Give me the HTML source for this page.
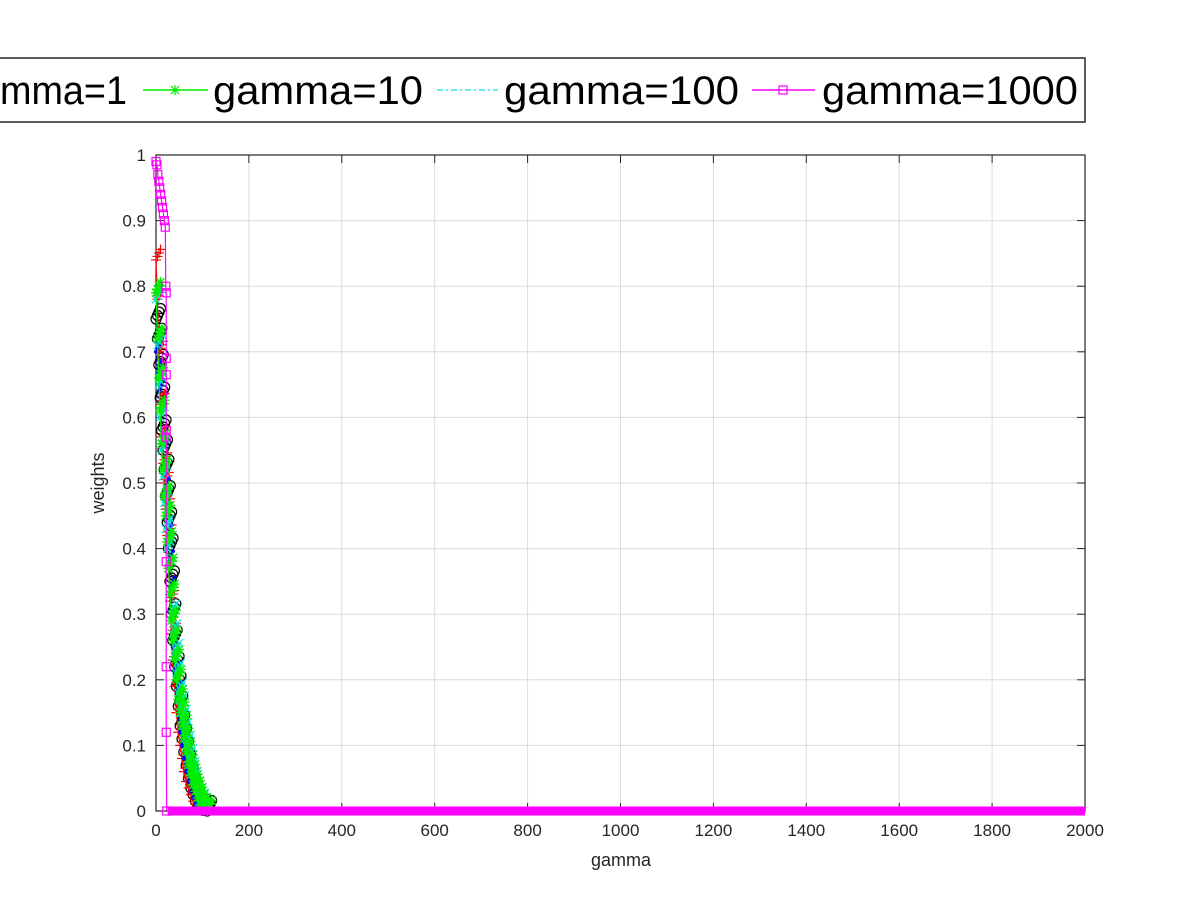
<!DOCTYPE html>
<html><head><meta charset="utf-8"><style>
body{margin:0;background:#fff;}
svg{display:block;font-family:"Liberation Sans",sans-serif;}
</style></head><body>
<svg id="chart" width="1200" height="900">
<rect width="1200" height="900" fill="#fff"/>
<g id="grid"></g>
<g id="axes"></g>
<g id="series"></g>
<text x="621" y="866" font-size="18" text-anchor="middle" fill="#262626">gamma</text>
<text x="104" y="483" font-size="18" text-anchor="middle" fill="#262626" transform="rotate(-90 104 483)">weights</text>
<g>
<rect x="-10" y="58" width="1095" height="64" fill="#fff" stroke="#262626" stroke-width="1.5"/>
<text x="0" y="104" font-size="40" fill="#000" textLength="127" lengthAdjust="spacingAndGlyphs">mma=1</text>
<line x1="143" y1="90" x2="208" y2="90" stroke="#00ee00" stroke-width="1.5"/>
<path d="M170,90h10M175,85v10M171,86l8,8M171,94l8,-8" stroke="#00ee00" stroke-width="1.2"/>
<text x="213" y="104" font-size="40" fill="#000" textLength="210" lengthAdjust="spacingAndGlyphs">gamma=10</text>
<line x1="437" y1="90" x2="498" y2="90" stroke="#00e5ee" stroke-width="1.2" stroke-dasharray="6,3,2,3"/>
<text x="504" y="104" font-size="40" fill="#000" textLength="235" lengthAdjust="spacingAndGlyphs">gamma=100</text>
<line x1="752" y1="90" x2="815" y2="90" stroke="#ff00ff" stroke-width="1.5"/>
<rect x="779" y="86" width="8" height="8" fill="none" stroke="#ff00ff" stroke-width="1.2"/>
<text x="822" y="104" font-size="40" fill="#000" textLength="256" lengthAdjust="spacingAndGlyphs">gamma=1000</text>
</g>
</svg>
<script>
const xTicks=[0,200,400,600,800,1000,1200,1400,1600,1800,2000];
const yTicks=[0,0.1,0.2,0.3,0.4,0.5,0.6,0.7,0.8,0.9,1];
const xDecay=[0,3,6,9,12,15,18,21,24,27,30,33,36,40,44,48,52,56,60,65,70,75,80,85,90,95,100,110];
const yBlack=[0.75,0.72,0.68,0.63,0.58,0.55,0.52,0.48,0.44,0.40,0.35,0.30,0.26,0.22,0.19,0.16,0.13,0.11,0.09,0.07,0.05,0.035,0.025,0.015,0.008,0.004,0.001,0];
const yRed=[0.84,0.78,0.70,0.62,0.57,0.53,0.50,0.46,0.42,0.37,0.32,0.27,0.23,0.19,0.15,0.12,0.10,0.08,0.06,0.045,0.035,0.025,0.015,0.01,0.005,0.002,0.001,0];
const yBlue=[0.70,0.67,0.64,0.60,0.56,0.52,0.49,0.45,0.42,0.38,0.34,0.29,0.25,0.21,0.18,0.15,0.12,0.10,0.08,0.06,0.045,0.03,0.02,0.012,0.006,0.003,0.001,0];
const yGreen=[0.79,0.72,0.66,0.61,0.56,0.52,0.48,0.45,0.41,0.37,0.33,0.29,0.26,0.23,0.20,0.17,0.15,0.13,0.11,0.09,0.07,0.055,0.04,0.03,0.02,0.01,0.004,0];
const yCyan=[0.78,0.71,0.65,0.60,0.55,0.51,0.47,0.43,0.40,0.37,0.33,0.30,0.27,0.24,0.21,0.18,0.16,0.14,0.12,0.10,0.08,0.06,0.045,0.03,0.02,0.012,0.005,0];
const xMag=[0,2,4,6,8,10,12,14,16,18,20,21,22,22,22,22,22,22,22,22,23];
const yMag=[0.99,0.985,0.97,0.96,0.95,0.94,0.93,0.92,0.91,0.90,0.89,0.80,0.79,0.69,0.665,0.58,0.57,0.38,0.22,0.12,0];
const tailStart=25, tailEnd=2000;
const X=v=>156+v*929/2000, Y=v=>811-v*656;
const NS="http://www.w3.org/2000/svg";
function mk(tag,attrs,parent){const e=document.createElementNS(NS,tag);for(const k in attrs)e.setAttribute(k,attrs[k]);parent.appendChild(e);return e;}
const grid=document.getElementById('grid'),axes=document.getElementById('axes'),ser=document.getElementById('series');
xTicks.forEach(t=>{const l=mk('line',{x1:X(t),x2:X(t),y1:155,y2:811,stroke:'#dcdcdc','stroke-width':1},grid);


const tx=mk('text',{x:X(t),y:836,'font-size':17,'text-anchor':'middle',fill:'#262626'},axes);tx.textContent=t;


mk('line',{x1:X(t),x2:X(t),y1:811,y2:803,stroke:'#262626'},axes);mk('line',{x1:X(t),x2:X(t),y1:155,y2:163,stroke:'#262626'},axes);});
yTicks.forEach(t=>{const l=mk('line',{x1:156,x2:1085,y1:Y(t),y2:Y(t),stroke:'#dcdcdc','stroke-width':1},grid);


const tx=mk('text',{x:146,y:Y(t)+6,'font-size':17,'text-anchor':'end',fill:'#262626'},axes);tx.textContent=t;


mk('line',{x1:156,x2:164,y1:Y(t),y2:Y(t),stroke:'#262626'},axes);mk('line',{x1:1085,x2:1077,y1:Y(t),y2:Y(t),stroke:'#262626'},axes);});
mk('rect',{x:156,y:155,width:929,height:656,fill:'none',stroke:'#262626','stroke-width':1.2},axes);
function series(name,xs,ys,color,marker,dash){
 const g=mk('g',{},ser);
 
 
 mk('polyline',{points:xs.map((x,i)=>X(x)+','+Y(ys[i])).join(' '),fill:'none',stroke:color,'stroke-width':1.2,'stroke-dasharray':dash||''},g);
 xs.forEach((x,i)=>{const cx=X(x),cy=Y(ys[i]);
  for(let j=0;j<4;j++){const ox=cx+j*1.5,oy=cy-j*3.5;
  if(marker==='o')mk('circle',{cx:ox,cy:oy,r:5,fill:'none',stroke:color,'stroke-width':1.2},g);
  else if(marker==='+'){mk('path',{d:`M${ox-5},${oy}h10M${ox},${oy-5}v10`,stroke:color,'stroke-width':1.2},g);}
  else if(marker==='.')mk('circle',{cx:ox,cy:oy,r:2,fill:color},g);
  else if(marker==='*'){mk('path',{d:`M${ox-5},${oy}h10M${ox},${oy-5}v10M${ox-4},${oy-4}l8,8M${ox-4},${oy+4}l8,-8`,stroke:color,'stroke-width':1.4},g);}
  else if(marker==='x'){mk('path',{d:`M${ox-4},${oy-4}l8,8M${ox-4},${oy+4}l8,-8`,stroke:color,'stroke-width':1.2},g);}
  else if(marker==='s')mk('rect',{x:ox-4,y:oy-4,width:8,height:8,fill:'none',stroke:color,'stroke-width':1.2},g);
  if(marker==='s')break;}
 });
}
series('series-black',xDecay,yBlack,'#000','o');
series('series-red',xDecay,yRed,'#ff0000','+');
series('series-blue',xDecay,yBlue,'#0000ff','.','2,2');
series('series-cyan',xDecay,yCyan,'#00e5ee','x','6,3,2,3');
series('series-green',xDecay,yGreen,'#00ee00','*');
series('series-magenta',xMag,yMag,'#ff00ff','s');
const tail=mk('line',{x1:X(tailStart),x2:X(tailEnd),y1:Y(0),y2:Y(0),stroke:'#ff00ff','stroke-width':9},ser);


</script>
</body></html>
